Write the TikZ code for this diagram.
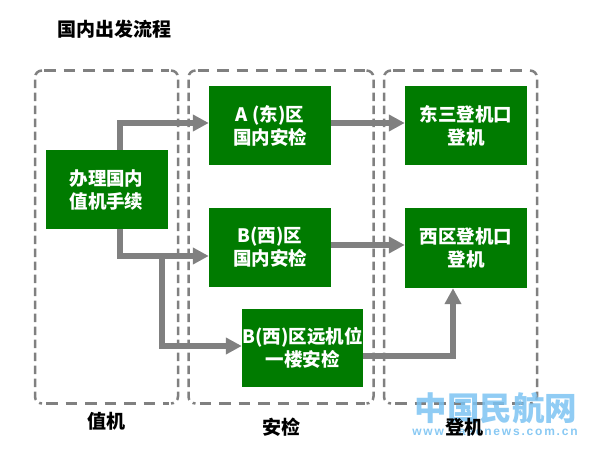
\documentclass[tikz,border=0pt]{standalone}
\usepackage{fontspec}
\setmainfont{Liberation Sans}
\newfontfamily\cjk{Noto Sans CJK SC}
\newfontfamily\wmfont[LetterSpace=15]{Liberation Sans}
\usetikzlibrary{arrows.meta,calc}
\definecolor{boxgreen}{HTML}{007B00}
\definecolor{linegray}{HTML}{808080}
\definecolor{wmblue}{HTML}{7CC3F2}
\tikzset{
  stepbox/.style={fill=boxgreen,text=white,minimum width=122pt,minimum height=79pt,inner sep=0pt,align=center,font=\cjk\fontsize{18.5}{23}\selectfont\bfseries,execute at begin node={\rule{0pt}{25pt}}},
  zoneh/.style={draw=linegray,line width=2.5pt,dash pattern=on 11.5pt off 8pt},
  zonev/.style={draw=linegray,line width=2.5pt,rounded corners=7pt,dash pattern=on 8.5pt off 4.5pt},
  flow/.style={draw=linegray,line width=6pt,-{Triangle[length=16pt,width=16pt]}},
  caption/.style={font=\cjk\fontsize{19}{22}\selectfont\bfseries,text=black,inner sep=0pt},
}
\newcommand{\zonebox}[4]{%
  \path[zoneh] (#1+9,#2) -- (#3-9,#2);
  \path[zoneh] (#1+11,#4) -- (#3-9,#4);
  \path[zonev] (#1+7,#2) -- (#1,#2) -- (#1,#4) -- (#1+7,#4);
  \path[zonev] (#3-7,#2) -- (#3,#2) -- (#3,#4) -- (#3-7,#4);
}
\begin{document}
\begin{tikzpicture}[x=1pt,y=-1pt]
\useasboundingbox (0,0) rectangle (590,449);
\zonebox{35}{70.5}{178}{403.5}
\zonebox{188.5}{70.5}{373.5}{403.5}
\zonebox{384}{70.5}{537}{403.5}
\node[stepbox] (main) at (106.5,189.5) {办理国内\\值机手续};
\node[stepbox] (A) at (270,125.5) {A (东)区\\国内安检};
\node[stepbox] (B) at (270,247.5) {B(西)区\\国内安检};
\node[stepbox,minimum width=121pt,minimum height=78pt] (C) at (302.5,348) {B(西)区远机位\\一楼安检};
\node[stepbox] (E) at (466,125.5) {东三登机口\\登机};
\node[stepbox,minimum height=80pt] (W) at (466,248) {西区登机口\\登机};
\coordinate (fork) at (161.5,256);
\draw[flow] ([xshift=13pt]main.north) |- ([yshift=2.5pt]A.west);
\draw[flow] ([xshift=13pt]main.south) |- ([yshift=-8.5pt]B.west);
\draw[flow] (fork) |- ([yshift=2pt]C.west);
\draw[flow] ([yshift=2.5pt]A.east) -- ([yshift=2.5pt]E.west);
\draw[flow] ([yshift=2.5pt]B.east) -- ([yshift=3pt]W.west);
\draw[flow] ([yshift=-8pt]C.east) -| ([xshift=-13pt]W.south);
\node[font=\cjk\fontsize{19}{22}\selectfont\bfseries,text=black,inner sep=0pt] (title) at (114.5,29.5) {国内出发流程};
\node[font=\cjk\fontsize{32.5}{34}\selectfont\bfseries,text=wmblue,opacity=.85,inner sep=0pt] (wm1) at (496,408) {中国民航网};
\node[font=\wmfont\fontsize{12}{13}\selectfont\bfseries,text=wmblue,opacity=.9,inner sep=0pt] (wm2) at (495,432) {www.caacnews.com.cn};
\node[caption] (c1) at (106,421) {值机};
\node[caption] (c2) at (281,427) {安检};
\node[caption] (c3) at (464,427) {登机};
\end{tikzpicture}
\end{document}
